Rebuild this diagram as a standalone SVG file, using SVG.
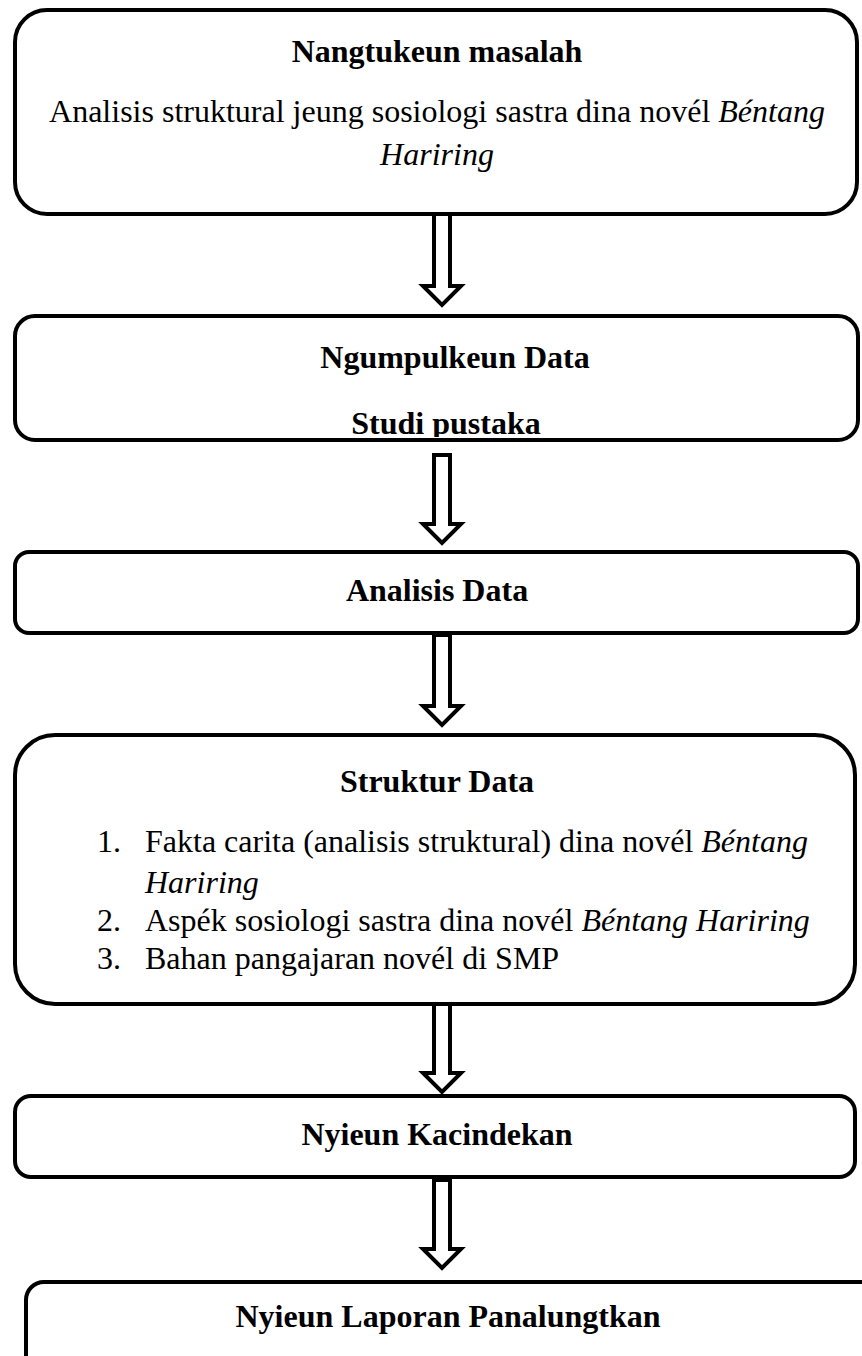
<svg xmlns="http://www.w3.org/2000/svg" width="862" height="1356" viewBox="0 0 862 1356">
<defs>
<style>
.box{fill:#fff;stroke:#000;stroke-width:4}
.arr{fill:#fff;stroke:#000;stroke-width:4;stroke-linejoin:miter}
text{font-family:"Liberation Serif","Times New Roman",serif;font-size:32px;fill:#000}
.b{font-weight:bold}
.c{text-anchor:middle}
.i{font-style:italic}
</style>
<clipPath id="clip2"><rect x="0" y="316" width="862" height="121"/></clipPath>
</defs>
<rect width="862" height="1356" fill="#fff"/>
<g id="connectors">
<polygon class="arr" points="434,212 450,212 450,286 461,286 442,305 423,286 434,286"/>
<polygon class="arr" points="434,455 450,455 450,524 461,524 442,543 423,524 434,524"/>
<polygon class="arr" points="434,635 450,635 450,706 461,706 442,725 423,706 434,706"/>
<polygon class="arr" points="434,1004 450,1004 450,1073 461,1073 442,1092 423,1073 434,1073"/>
<polygon class="arr" points="434,1180 450,1180 450,1249 461,1249 442,1268 423,1249 434,1249"/>
</g>
<g id="node1">
<rect class="box" x="15" y="10" width="842" height="204" rx="32"/>
<text class="b c" x="437" y="62">Nangtukeun masalah</text>
<text class="c" x="437" y="122">Analisis struktural jeung sosiologi sastra dina novél <tspan class="i">Béntang</tspan></text>
<text class="c i" x="437" y="165">Hariring</text>
</g>
<g id="node2">
<rect class="box" x="15" y="316" width="843" height="124" rx="20"/>
<text class="b c" x="455" y="368">Ngumpulkeun Data</text>
<text class="b c" x="446" y="434" clip-path="url(#clip2)">Studi pustaka</text>
</g>
<g id="node3">
<rect class="box" x="15" y="552" width="843" height="81" rx="14"/>
<text class="b c" x="437" y="601">Analisis Data</text>
</g>
<g id="node4">
<rect class="box" x="15" y="735" width="840" height="269" rx="40"/>
<text class="b c" x="437" y="792">Struktur Data</text>
<text x="97" y="852">1.</text>
<text x="145" y="852">Fakta carita (analisis struktural) dina novél <tspan class="i">Béntang</tspan></text>
<text class="i" x="145" y="893">Hariring</text>
<text x="97" y="931">2.</text>
<text x="145" y="931">Aspék sosiologi sastra dina novél <tspan class="i">Béntang Hariring</tspan></text>
<text x="97" y="969">3.</text>
<text x="145" y="969">Bahan pangajaran novél di SMP</text>
</g>
<g id="node5">
<rect class="box" x="15" y="1096" width="840" height="81" rx="16"/>
<text class="b c" x="437" y="1145">Nyieun Kacindekan</text>
</g>
<g id="node6">
<rect class="box" x="26" y="1282" width="860" height="110" rx="18"/>
<text class="b c" x="448" y="1327">Nyieun Laporan Panalungtkan</text>
</g>
</svg>
